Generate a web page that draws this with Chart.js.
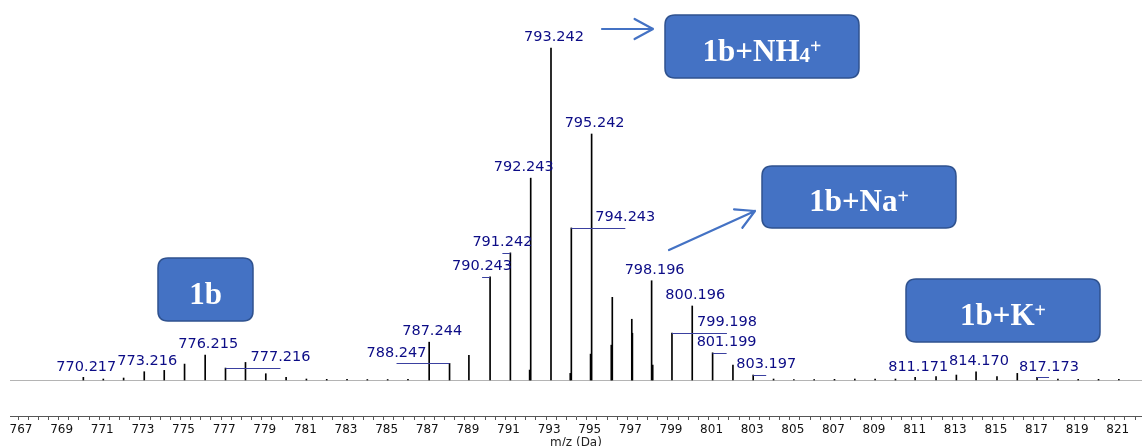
<!DOCTYPE html>
<html>
<head>
<meta charset="utf-8">
<script src="https://cdn.jsdelivr.net/npm/chart.js@4.4.1/dist/chart.umd.min.js"></script>
<style>
  html, body { margin: 0; padding: 0; background: #fff; overflow: hidden; }
  #wrap { width: 1142px; height: 446px; overflow: hidden; }
</style>
</head>
<body>
<div id="wrap"><canvas id="spectrum" width="1142" height="449"></canvas></div>
<script>
// peak list, intensity in % of the base peak (793.242)
const peakMz = [
  770.217, 771.2, 772.2, 773.216, 774.2, 775.2, 776.215, 777.216, 778.2, 779.2, 780.2, 781.2,
  782.2, 783.2, 784.2, 785.2, 786.2, 787.244, 788.247, 789.2, 790.243, 791.242,
  792.19, 792.243, 793.242, 794.19, 794.243, 795.19, 795.242, 796.21, 796.26, 797.22, 797.25,
  798.196, 798.25, 799.198, 800.196, 801.199, 802.2, 803.197, 804.2, 805.2, 806.2, 807.2,
  808.2, 809.2, 810.2, 811.171, 812.2, 813.2, 814.170, 815.2, 816.2, 817.173, 818.2,
  819.2, 820.2, 821.2
];
const peakIntensity = [
  0.8, 0.3, 0.6, 2.5, 2.9, 4.8, 7.5, 3.6, 5.3, 1.9, 0.8, 0.3,
  0.2, 0.2, 0.15, 0.15, 0.2, 11.4, 5.0, 7.4, 31.1, 38.3,
  3.0, 60.8, 100, 2.0, 45.8, 7.8, 74.1, 10.5, 24.9, 18.3, 14.1,
  29.9, 4.5, 14.1, 22.3, 8.2, 4.5, 1.5, 0.3, 0.15, 0.15, 0.2,
  0.3, 0.3, 0.3, 0.8, 1.0, 1.5, 2.5, 1.0, 2.0, 0.8, 0.3,
  0.2, 0.2, 0.2
];

// labelled peaks
const labelMz = [
  770.217, 773.216, 776.215, 777.216, 787.244, 788.247, 790.243, 791.242, 792.243, 793.242,
  794.243, 795.242, 798.196, 799.198, 800.196, 801.199, 803.197, 811.171, 814.170, 817.173
];
// label layout: horizontal shift in px, and whether a leader line is drawn
const labelShift = [3, 3, 3, 55, 3, -53, -8, -8, -7, 3, 54, 3, 3, 55, 3, 14, 13, 3, 3, 12];
const labelLeader = [0, 0, 0, 1, 0, 1, 1, 1, 0, 0, 1, 0, 0, 1, 0, 1, 1, 0, 0, 1];

const tickLabels = [767, 769, 771, 773, 775, 777, 779, 781, 783, 785, 787, 789, 791, 793, 795,
  797, 799, 801, 803, 805, 807, 809, 811, 813, 815, 817, 819, 821];

const boxes = [
  { x: 665, y: 15, w: 194, h: 63, parts: [['1b+NH', 'n'], ['4', 'sub'], ['+', 'sup']] },
  { x: 762, y: 166, w: 194, h: 62, parts: [['1b+Na', 'n'], ['+', 'sup']] },
  { x: 158, y: 258, w: 95, h: 63, parts: [['1b', 'n']] },
  { x: 906, y: 279, w: 194, h: 63, parts: [['1b+K', 'n'], ['+', 'sup']] }
];
const arrows = [
  { from: [602, 29], to: [653, 29] },
  { from: [669, 250], to: [755, 211] }
];

const baselinePlugin = {
  id: 'baseline',
  beforeDatasetsDraw(chart) {
    const { ctx, chartArea, scales: { y } } = chart;
    const py = Math.round(y.getPixelForValue(0)) + 0.5;
    ctx.save();
    ctx.strokeStyle = '#b4b4b4';
    ctx.lineWidth = 1;
    ctx.beginPath();
    ctx.moveTo(chartArea.left, py);
    ctx.lineTo(chartArea.right, py);
    ctx.stroke();
    ctx.restore();
  }
};

const labelPlugin = {
  id: 'peakLabels',
  afterDatasetsDraw(chart) {
    const { ctx, scales: { x, y } } = chart;
    ctx.save();
    ctx.font = '14.5px "DejaVu Sans"';
    ctx.textAlign = 'center';
    ctx.textBaseline = 'middle';
    labelMz.forEach((mz, i) => {
      const h = peakIntensity[peakMz.indexOf(mz)];
      const px = x.getPixelForValue(mz);
      const top = y.getPixelForValue(h);
      const lx = px + labelShift[i];
      if (labelLeader[i]) {
        ctx.strokeStyle = '#3a40a0';
        ctx.lineWidth = 1;
        ctx.beginPath();
        ctx.moveTo(px, Math.round(top) + 0.5);
        ctx.lineTo(lx, Math.round(top) + 0.5);
        ctx.stroke();
      }
      ctx.fillStyle = '#0c0c86';
      ctx.fillText(mz.toFixed(3), lx, top - 10.5);
    });
    ctx.restore();
  }
};

function roundRect(ctx, x, y, w, h, r) {
  ctx.beginPath();
  ctx.moveTo(x + r, y);
  ctx.lineTo(x + w - r, y);
  ctx.quadraticCurveTo(x + w, y, x + w, y + r);
  ctx.lineTo(x + w, y + h - r);
  ctx.quadraticCurveTo(x + w, y + h, x + w - r, y + h);
  ctx.lineTo(x + r, y + h);
  ctx.quadraticCurveTo(x, y + h, x, y + h - r);
  ctx.lineTo(x, y + r);
  ctx.quadraticCurveTo(x, y, x + r, y);
  ctx.closePath();
}

const fonts = {
  n: 'bold 31px "Liberation Serif"',
  sub: 'bold 21px "Liberation Serif"',
  sup: 'bold 20px "Liberation Serif"'
};
const shifts = { n: 0, sub: 1, sup: -8 };

const annotationPlugin = {
  id: 'annotations',
  afterDraw(chart) {
    const ctx = chart.ctx;
    ctx.save();
    boxes.forEach(b => {
      roundRect(ctx, b.x, b.y, b.w, b.h, 10);
      ctx.fillStyle = '#4472c4';
      ctx.fill();
      ctx.strokeStyle = '#2f528f';
      ctx.lineWidth = 1.5;
      ctx.stroke();
      let total = 0;
      b.parts.forEach(p => { ctx.font = fonts[p[1]]; total += ctx.measureText(p[0]).width; });
      let cx = b.x + b.w / 2 - total / 2;
      const base = b.y + b.h / 2 + 14;
      ctx.fillStyle = '#fff';
      ctx.textAlign = 'left';
      ctx.textBaseline = 'alphabetic';
      b.parts.forEach(p => {
        ctx.font = fonts[p[1]];
        ctx.fillText(p[0], cx, base + shifts[p[1]]);
        cx += ctx.measureText(p[0]).width;
      });
    });
    ctx.strokeStyle = '#4472c4';
    ctx.lineWidth = 2.2;
    ctx.lineCap = 'round';
    arrows.forEach(a => {
      const [x0, y0] = a.from, [x1, y1] = a.to;
      const ang = Math.atan2(y1 - y0, x1 - x0);
      ctx.beginPath();
      ctx.moveTo(x0, y0);
      ctx.lineTo(x1, y1);
      [-1, 1].forEach(s => {
        ctx.moveTo(x1, y1);
        ctx.lineTo(x1 - 21 * Math.cos(ang + s * 0.5), y1 - 21 * Math.sin(ang + s * 0.5));
      });
      ctx.stroke();
    });
    ctx.restore();
  }
};

new Chart(document.getElementById('spectrum'), {
  type: 'bar',
  data: {
    datasets: [{
      data: peakMz.map((m, i) => ({ x: m, y: peakIntensity[i] })),
      backgroundColor: '#000',
      borderWidth: 0,
      barThickness: 1
    }]
  },
  options: {
    responsive: false,
    animation: false,
    devicePixelRatio: 1,
    layout: { padding: { left: 10, right: 0, top: 0, bottom: 0 } },
    plugins: { legend: { display: false }, tooltip: { enabled: false } },
    scales: {
      x: {
        type: 'linear',
        min: 766.606,
        max: 822.34,
        offset: false,
        grid: { display: true, drawOnChartArea: false, drawTicks: true, tickLength: 4, color: '#555', offset: false },
        border: { display: true, color: '#555', width: 1 },
        ticks: {
          stepSize: 0.5,
          includeBounds: false,
          autoSkip: false,
          maxRotation: 0,
          padding: 4,
          labelOffset: 3,
          color: '#111',
          font: { family: 'DejaVu Sans', size: 12, lineHeight: 1 },
          callback: v => {
            const r = Math.round(v);
            return Math.abs(v - r) < 1e-6 && tickLabels.includes(r) ? String(r) : '';
          }
        },
        title: {
          display: true,
          text: 'm/z (Da)',
          color: '#222',
          font: { family: 'DejaVu Sans', size: 12, lineHeight: 1 },
          padding: { top: -3, bottom: 0 }
        }
      },
      y: { display: false, min: -10.84, max: 114.46 }
    }
  },
  plugins: [baselinePlugin, labelPlugin, annotationPlugin]
});
</script>
</body>
</html>
